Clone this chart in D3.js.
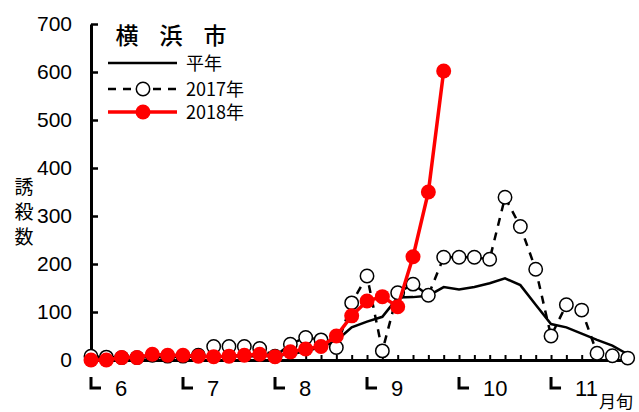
<!doctype html>
<html>
<head>
<meta charset="utf-8">
<style>
  body { margin: 0; background: #fff; }
  text { font-family: "Liberation Sans", Arial, sans-serif; fill: #000; }
  .jp { font-family: "Noto Sans CJK JP", sans-serif; }
</style>
</head>
<body>
<script src="https://cdn.jsdelivr.net/npm/d3@7"></script>
<script>
// 半旬ごとの誘殺数（6月第1半旬〜11月第6半旬）
var months = ["6", "7", "8", "9", "10", "11"];
var yTicks = [0, 100, 200, 300, 400, 500, 600, 700];

var heinen = [2, 3, 4, 5, 6, 6, 7, 7, 7, 8, 8, 8, 9, 12, 18, 27, 40, 68,
              80, 90, 130, 131, 134, 152, 147, 152, 160, 170, 156, 115, 75, 68, 55, 42, 30, 12];
var y2017 = [8, 6, 5, 5, 10, 8, 8, 10, 28, 28, 28, 24, 8, 33, 47, 42, 26, 119,
             175, 19, 140, 158, 135, 214, 214, 214, 210, 339, 278, 189, 50, 115, 104, 14, 9, 4];
var y2018 = [0, 0, 5, 5, 12, 10, 10, 8, 7, 8, 10, 12, 7, 17, 23, 28, 50, 92,
             123, 132, 111, 215, 350, 602];
var title = ["横", "浜", "市"];

var width = 639, height = 412;

var svg = d3.select("body").append("svg")
    .attr("width", width)
    .attr("height", height);

var x = d3.scaleLinear().domain([0, 35]).range([91, 627.7]);
var y = d3.scaleLinear().domain([0, 700]).range([360, 24]);

// y axis
var yAxis = svg.append("g")
    .attr("transform", "translate(" + x(0) + ",0)")
    .call(d3.axisLeft(y).tickValues(yTicks).tickSizeInner(-7).tickSizeOuter(0).tickPadding(19));
yAxis.select(".domain").attr("stroke-width", 3);
yAxis.selectAll(".tick line").attr("stroke-width", 2.5);
yAxis.selectAll("text").attr("font-size", 21).attr("font-family", "Liberation Sans, Arial, sans-serif");

// x axis (半旬の目盛り)
var xAxis = svg.append("g")
    .attr("transform", "translate(0," + y(0) + ")")
    .call(d3.axisBottom(x).tickValues(d3.range(1, 36)).tickSizeInner(-5).tickSizeOuter(0).tickFormat(""));
xAxis.select(".domain").attr("stroke-width", 3);
xAxis.selectAll(".tick line").attr("stroke-width", 2);

// 月の印
var m = svg.append("g").selectAll("g")
    .data(months)
    .enter().append("g")
    .attr("transform", function (d, i) { return "translate(" + x(i * 6) + ",0)"; });
m.append("path")
    .attr("d", "M0,377V388H10")
    .attr("fill", "none")
    .attr("stroke", "#000")
    .attr("stroke-width", 3);
m.append("text")
    .attr("x", 24)
    .attr("y", 396)
    .attr("font-size", 22)
    .text(function (d) { return d; });

svg.append("text")
    .attr("class", "jp")
    .attr("x", 599)
    .attr("y", 408)
    .attr("font-size", 17)
    .text("月旬");

// y label
svg.append("g").selectAll("text")
    .data(["誘", "殺", "数"])
    .enter().append("text")
    .attr("class", "jp")
    .attr("x", 24)
    .attr("y", function (d, i) { return 194 + i * 25; })
    .attr("text-anchor", "middle")
    .attr("font-size", 19)
    .text(function (d) { return d; });

var line = d3.line()
    .x(function (d, i) { return x(i); })
    .y(function (d) { return y(d); });

// 平年
svg.append("path")
    .datum(heinen)
    .attr("d", line)
    .attr("fill", "none")
    .attr("stroke", "#000")
    .attr("stroke-width", 2.5);

// 2017年
svg.append("path")
    .datum(y2017)
    .attr("d", line)
    .attr("fill", "none")
    .attr("stroke", "#000")
    .attr("stroke-width", 2.5)
    .attr("stroke-dasharray", "8,7");
svg.append("g").selectAll("circle")
    .data(y2017)
    .enter().append("circle")
    .attr("cx", function (d, i) { return x(i); })
    .attr("cy", function (d) { return y(d); })
    .attr("r", 6.7)
    .attr("fill", "#fff")
    .attr("stroke", "#000")
    .attr("stroke-width", 1.5);

// 2018年
svg.append("path")
    .datum(y2018)
    .attr("d", line)
    .attr("fill", "none")
    .attr("stroke", "#f00")
    .attr("stroke-width", 3.5);
svg.append("g").selectAll("circle")
    .data(y2018)
    .enter().append("circle")
    .attr("cx", function (d, i) { return x(i); })
    .attr("cy", function (d) { return y(d); })
    .attr("r", 7.5)
    .attr("fill", "#f00");

// 凡例
var lg = svg.append("g");
lg.selectAll(".title")
    .data(title)
    .enter().append("text")
    .attr("class", "jp title")
    .attr("x", function (d, i) { return 127 + i * 44; })
    .attr("y", 44)
    .attr("text-anchor", "middle")
    .attr("font-size", 23)
    .attr("font-weight", 500)
    .text(function (d) { return d; });

var items = [
  {label: "平年", y: 63, color: "#000", dash: null, w: 2.5},
  {label: "2017年", y: 89, color: "#000", dash: "8,7", w: 2.5, open: true},
  {label: "2018年", y: 112, color: "#f00", dash: null, w: 3.5, fill: true}
];
items.forEach(function (it) {
  lg.append("line")
      .attr("x1", 108).attr("x2", 177)
      .attr("y1", it.y).attr("y2", it.y)
      .attr("stroke", it.color)
      .attr("stroke-width", it.w)
      .attr("stroke-dasharray", it.dash);
  if (it.open) {
    lg.append("circle").attr("cx", 143).attr("cy", it.y).attr("r", 6.7)
        .attr("fill", "#fff").attr("stroke", "#000").attr("stroke-width", 1.5);
  }
  if (it.fill) {
    lg.append("circle").attr("cx", 143).attr("cy", it.y).attr("r", 7.5).attr("fill", "#f00");
  }
  lg.append("text")
      .attr("class", "jp")
      .attr("x", 186)
      .attr("y", it.y + 7)
      .attr("font-size", 18)
      .text(it.label);
});
</script>
</body>
</html>
